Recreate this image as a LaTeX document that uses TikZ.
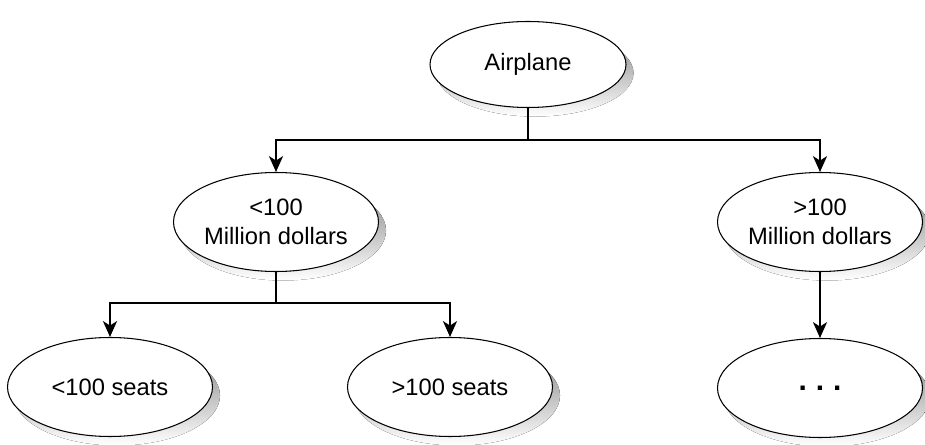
\documentclass[tikz,border=0pt]{standalone}
\usepackage{fontspec}
\setmainfont{Liberation Sans}
\usetikzlibrary{shapes.geometric}
\usetikzlibrary{arrows.meta}
\usetikzlibrary{calc}
\usetikzlibrary{backgrounds}

\definecolor{shade}{gray}{0.88}

\tikzset{
    oval/.style={ellipse,draw,line width=0.6pt,fill=white,inner sep=0pt,
        minimum width=4.1cm,minimum height=1.98cm,align=center,
        font=\fontsize{13.5}{16.5}\selectfont},
    link/.style={line width=1.2pt},
    >={Stealth[length=9pt,width=8pt,inset=2.5pt]}
}

\begin{document}
\begin{tikzpicture}
        \useasboundingbox (0,0) rectangle (18.5,-8.9);

        \node[oval,minimum width=3.92cm,minimum height=1.72cm] (Ap) at (10.56,-1.29) {Airplane};
        \node[oval] (Lm) at (5.52,-4.44) {<100\\Million dollars};
        \node[oval] (Hm) at (16.4,-4.44) {>100\\Million dollars};
        \node[oval] (Ls) at (2.2,-7.74) {<100 seats};
        \node[oval] (Hs) at (9.0,-7.74) {>100 seats};
        \node[oval] (Hx) at (16.4,-7.76) {\fontsize{17}{17}\selectfont\bfseries .\hspace{0.3em}.\hspace{0.3em}.};

        % grey shadows behind the ovals
        \begin{scope}[on background layer]
            \foreach \k in {Ap,Lm,Hm,Ls,Hs,Hx}
                \fill[shade] let \p1=(\k.center), \p2=(\k.east), \p3=(\k.north) in
                    ([shift={(0.14,-0.17)}]\k.center) ellipse [x radius={\x2-\x1}, y radius={\y3-\y1}];
        \end{scope}

        \coordinate (J1) at (10.56,-2.8);
        \coordinate (J2) at (5.52,-6.06);

        \draw[link] (Ap.south) -- (J1);
        \draw[link,->] (J1) -| (Lm.north);
        \draw[link,->] (J1) -| (Hm.north);
        \draw[link] (Lm.south) -- (J2);
        \draw[link,->] (J2) -| (Ls.north);
        \draw[link,->] (J2) -| (Hs.north);
        \draw[link,->] (Hm.south) -- (Hx.north);

    \end{tikzpicture}
\end{document}
